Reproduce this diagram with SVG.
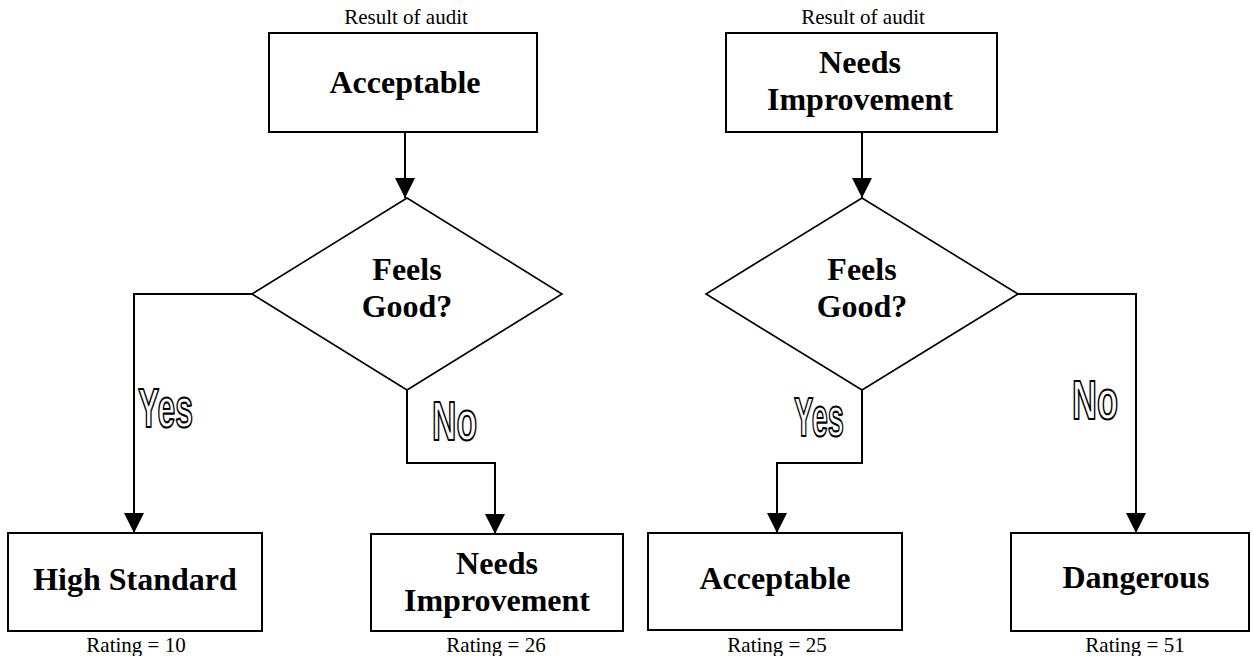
<svg xmlns="http://www.w3.org/2000/svg" width="1254" height="656" viewBox="0 0 1254 656">
<style>
.box{fill:#fff;stroke:#000;stroke-width:2}
.dia{fill:#fff;stroke:#000;stroke-width:1.6}
.main{font-family:"Liberation Serif","Times New Roman",serif;font-weight:bold;font-size:32px;text-anchor:middle;fill:#000}
.small{font-family:"Liberation Serif","Times New Roman",serif;font-size:21px;text-anchor:middle;fill:#000}
.lbl{font-family:"Liberation Sans","Arial",sans-serif;font-weight:bold;font-size:56px;fill:#fff;stroke:#000;stroke-width:2.2;stroke-linejoin:round}
.con{fill:none;stroke:#000;stroke-width:2}
</style>
<defs>
<marker id="arr" markerWidth="20" markerHeight="20" refX="20" refY="10" orient="auto" markerUnits="userSpaceOnUse">
<path d="M0,0 L20,10 L0,20 z" fill="#000"/>
</marker>
</defs>
<rect width="1254" height="656" fill="#fff"/>
<g id="connectors">
<path class="con" d="M405,132 V198" marker-end="url(#arr)"/>
<path class="con" d="M252,294 H134 V533" marker-end="url(#arr)"/>
<path class="con" d="M407,390 V463 H495 V534" marker-end="url(#arr)"/>
<path class="con" d="M862,132 V198" marker-end="url(#arr)"/>
<path class="con" d="M862,390 V463 H777 V533" marker-end="url(#arr)"/>
<path class="con" d="M1018,294 H1136 V533" marker-end="url(#arr)"/>
<text class="lbl" x="138" y="427" textLength="55" lengthAdjust="spacingAndGlyphs">Yes</text>
<text class="lbl" x="432" y="440" textLength="45" lengthAdjust="spacingAndGlyphs">No</text>
<text class="lbl" x="794" y="436" textLength="50" lengthAdjust="spacingAndGlyphs">Yes</text>
<text class="lbl" x="1072" y="419" textLength="46" lengthAdjust="spacingAndGlyphs">No</text>
</g>
<g id="top-left">
<text class="small" x="406" y="24">Result of audit</text>
<rect class="box" x="269" y="33" width="268" height="99"/>
<text class="main" x="405" y="93">Acceptable</text>
</g>
<g id="decision-left">
<polygon class="dia" points="407,198 562,294 407,390 252,294"/>
<text class="main" x="407" y="280">Feels</text>
<text class="main" x="407" y="317">Good?</text>
</g>
<g id="high-standard">
<rect class="box" x="8" y="533" width="254" height="98"/>
<text class="main" x="135" y="590">High Standard</text>
<text class="small" x="136" y="652">Rating = 10</text>
</g>
<g id="needs-improvement-left">
<rect class="box" x="371" y="534" width="252" height="97"/>
<text class="main" x="497" y="574">Needs</text>
<text class="main" x="497" y="611">Improvement</text>
<text class="small" x="496" y="652">Rating = 26</text>
</g>
<g id="top-right">
<text class="small" x="863" y="24">Result of audit</text>
<rect class="box" x="726" y="33" width="271" height="99"/>
<text class="main" x="860" y="73">Needs</text>
<text class="main" x="860" y="110">Improvement</text>
</g>
<g id="decision-right">
<polygon class="dia" points="862,198 1018,294 862,390 706,294"/>
<text class="main" x="862" y="280">Feels</text>
<text class="main" x="862" y="317">Good?</text>
</g>
<g id="acceptable-right">
<rect class="box" x="648" y="533" width="254" height="97"/>
<text class="main" x="775" y="589">Acceptable</text>
<text class="small" x="777" y="652">Rating = 25</text>
</g>
<g id="dangerous">
<rect class="box" x="1011" y="533" width="238" height="98"/>
<text class="main" x="1136" y="588">Dangerous</text>
<text class="small" x="1135" y="652">Rating = 51</text>
</g>
</svg>
